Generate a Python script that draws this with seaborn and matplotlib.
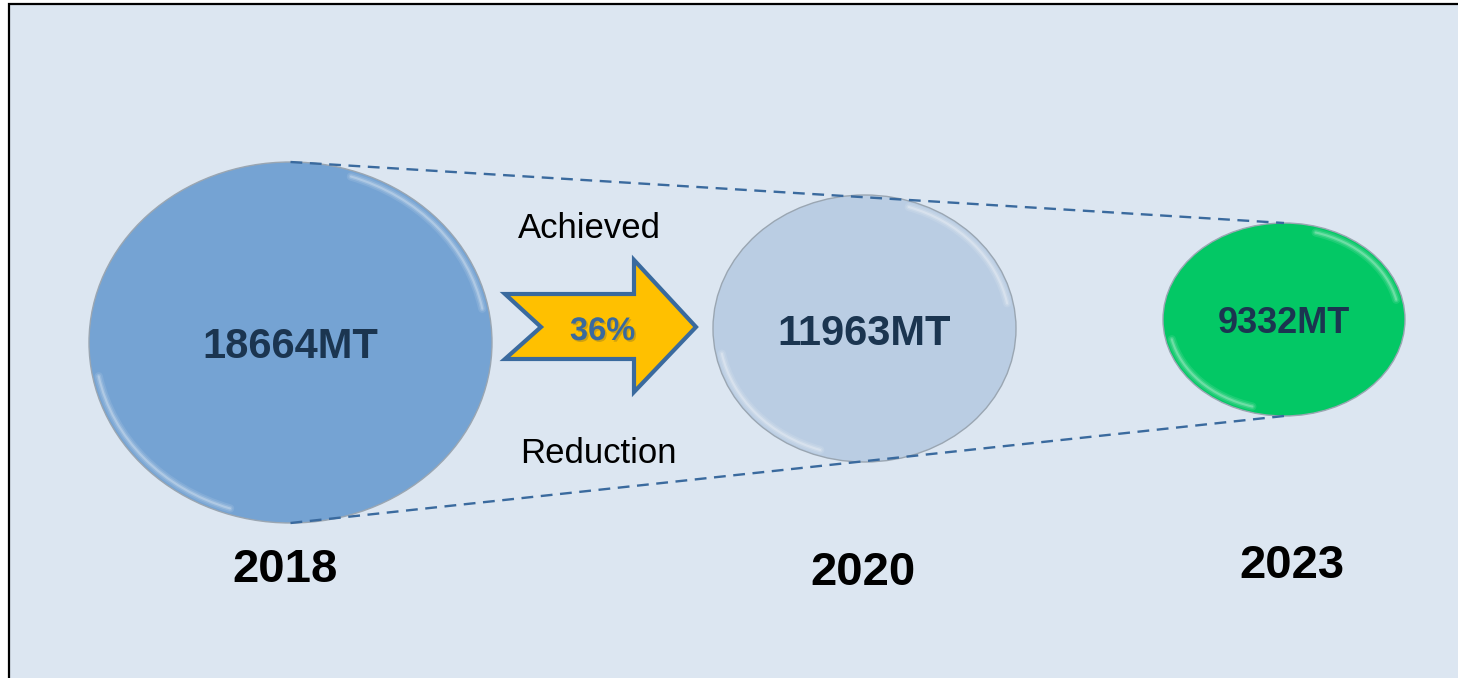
import matplotlib
matplotlib.use("Agg")
import matplotlib.pyplot as plt
import matplotlib.patheffects as pe
from matplotlib.patches import Ellipse, Arc, Polygon, Rectangle
import numpy as np
import pandas as pd
import seaborn as sns

# ---- data ----
years = ["2018", "2020", "2023"]
values = [18664, 11963, 9332]
unit = "MT"
reduction_pct = 36
label_top = "Achieved"
label_bottom = "Reduction"

# ---- layout / style (pixel units) ----
W, H = 1458, 678
cx = [290.5, 864.5, 1284]
cy = [342.5, 328.5, 319.5]
ew = [403, 303, 242]
eh = [361, 267, 193]
fills = ["#75A3D3", "#BACDE3", "#03C865"]
val_sizes = [30, 30, 26]
val_base = [358, 345, 333]
year_x = [285.5, 863.5, 1292]
year_base = [582, 585, 578]
bg = "#DCE6F1"
navy = "#1B3550"
blue_edge = "#3A6A9E"

sns.set_theme(style="white")
plt.rcParams["font.family"] = ["Liberation Sans", "DejaVu Sans"]

fig = plt.figure(figsize=(W / 100, H / 100), dpi=100, facecolor="white")
ax = fig.add_axes([0, 0, 1, 1])
ax.set_xlim(0, W)
ax.set_ylim(H, 0)
ax.axis("off")

# background panel with border
ax.add_patch(Rectangle((9, 4), 3000, 3000, facecolor=bg, edgecolor="black",
                       lw=1.6, zorder=0))

# ellipses
for i in range(len(values)):
    ax.add_patch(Ellipse((cx[i], cy[i]), ew[i], eh[i], facecolor=fills[i],
                         edgecolor="#9AA6B2", lw=1.0, zorder=2))
    # soft glossy rim highlights
    for t1, t2 in [(290, 350), (110, 170)]:
        for lw, a in [(6, 0.10), (3.5, 0.15), (1.5, 0.25)]:
            ax.add_patch(Arc((cx[i], cy[i]), ew[i] - 12, eh[i] - 12, theta1=t1, theta2=t2,
                             color="white", alpha=a, lw=lw, zorder=3,
                             capstyle="round"))
    ax.text(cx[i], val_base[i], f"{values[i]}{unit}", ha="center", va="baseline",
            fontsize=val_sizes[i], fontweight="bold", color=navy, zorder=5)
    ax.text(year_x[i], year_base[i], years[i], ha="center", va="baseline",
            fontsize=34, fontweight="bold", color="black", zorder=5)

# dashed connector lines (tops and bottoms of first and last ellipse)
tops = pd.DataFrame({"x": [cx[0], cx[-1]],
                     "y": [cy[0] - eh[0] / 2, cy[-1] - eh[-1] / 2]})
bots = pd.DataFrame({"x": [cx[0], cx[-1]],
                     "y": [cy[0] + eh[0] / 2, cy[-1] + eh[-1] / 2]})
for df in (tops, bots):
    sns.lineplot(data=df, x="x", y="y", ax=ax, color=blue_edge, lw=1.7,
                 sort=False, estimator=None, zorder=4)
for ln in ax.lines:
    ln.set_linestyle((0, (5.0, 3.2)))

# notched arrow
arrow_pts = [(505, 294), (634, 294), (634, 260), (696, 327), (634, 392),
             (634, 359), (505, 359), (541, 327)]
ax.add_patch(Polygon(arrow_pts, closed=True, facecolor="#FFC000",
                     edgecolor=blue_edge, lw=3, joinstyle="miter", zorder=4))
ax.text(602.5, 340, f"{reduction_pct}%", ha="center", va="baseline",
        fontsize=23.5, fontweight="bold", color=blue_edge, zorder=6,
        path_effects=[pe.SimplePatchShadow(offset=(1.2, -1.2), shadow_rgbFace="#7a6a30",
                                           alpha=0.35), pe.Normal()])

ax.text(589.5, 238, label_top, ha="center", va="baseline", fontsize=25,
        color="black", zorder=5)
ax.text(598, 463, label_bottom, ha="center", va="baseline", fontsize=25,
        color="black", zorder=5)

fig.savefig("out.png", dpi=100, facecolor="white")
